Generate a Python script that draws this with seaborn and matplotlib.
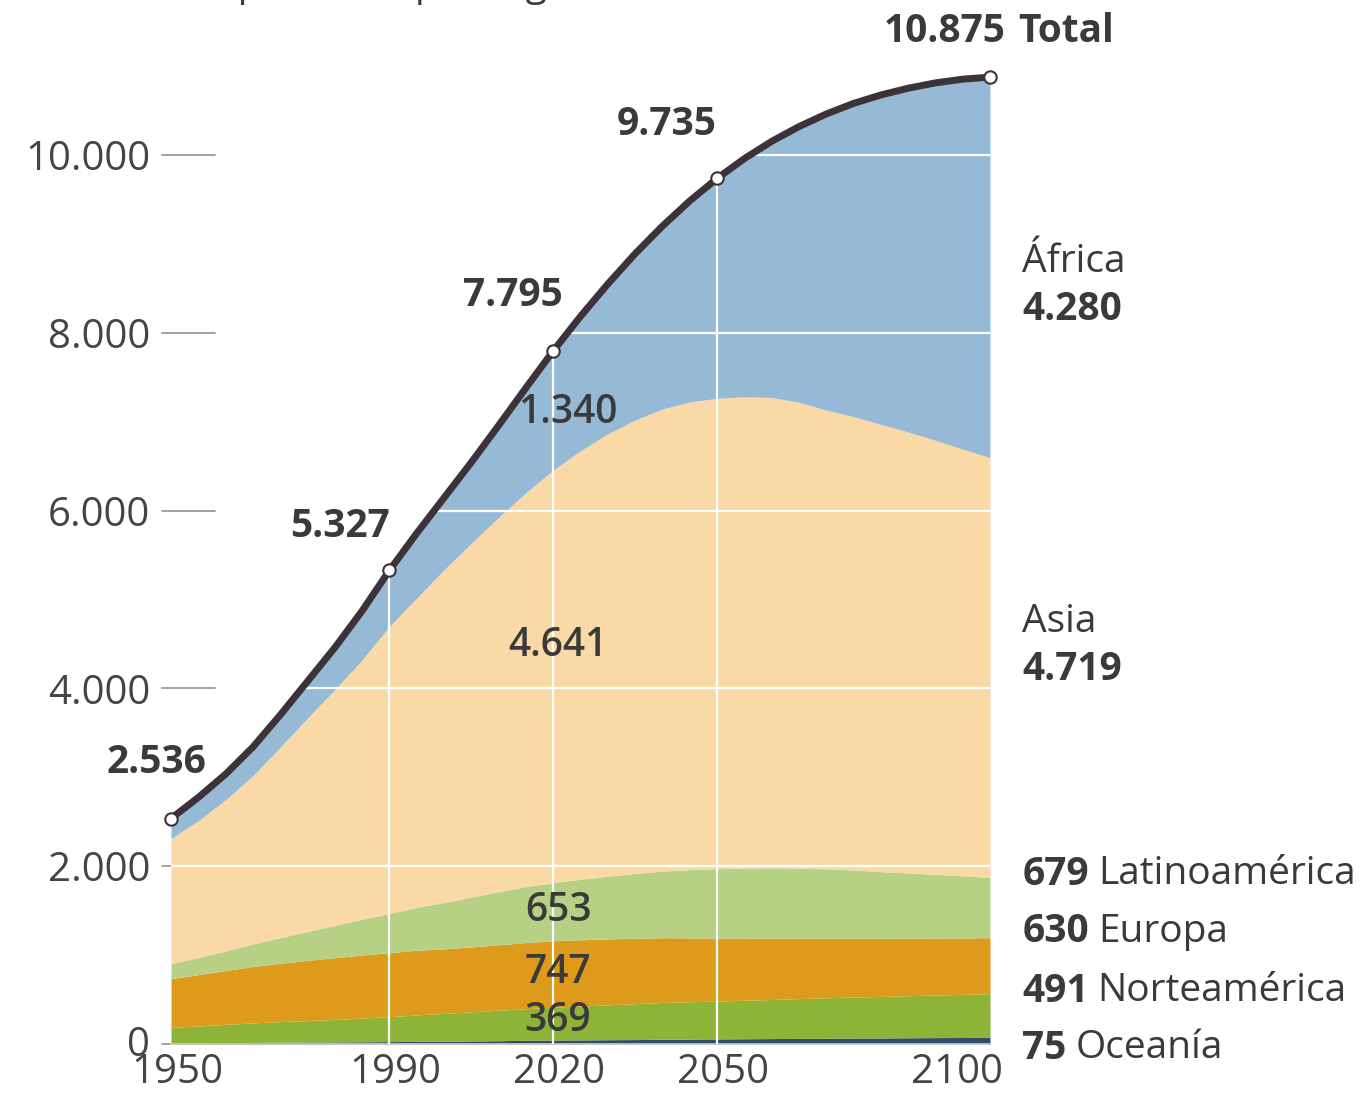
import numpy as np
import matplotlib
matplotlib.use("Agg")
import matplotlib.pyplot as plt
import matplotlib.transforms as mtransforms
import seaborn as sns

# Data (millions of people), every 5 years
years = list(range(1950, 2101, 5))
oceania = [13, 14, 16, 18, 20, 21, 23, 25, 27, 29, 31, 34, 37, 41, 45, 46,
           48, 50, 53, 55, 57, 59, 61, 63, 65, 67, 68, 70, 72, 73, 75]
norteamerica = [173, 189, 205, 219, 231, 242, 254, 267, 280, 298, 313, 328, 343, 357, 369, 381,
                393, 404, 414, 420, 425, 433, 440, 448, 455, 461, 467, 473, 479, 485, 491]
europa = [549, 577, 605, 635, 657, 677, 694, 708, 721, 727, 726, 730, 736, 743, 747, 745,
          741, 735, 728, 719, 710, 700, 690, 680, 670, 662, 654, 647, 641, 635, 630]
latinoamerica = [169, 193, 220, 253, 288, 326, 364, 403, 441, 482, 522, 561, 598, 630, 653, 681,
                 706, 729, 750, 767, 780, 787, 790, 787, 780, 767, 750, 734, 717, 698, 679]
asia = [1405, 1540, 1700, 1893, 2142, 2400, 2650, 2917, 3226, 3480, 3741, 3980, 4210, 4430, 4641, 4820,
        4974, 5100, 5197, 5260, 5290, 5300, 5290, 5240, 5160, 5100, 5030, 4960, 4880, 4800, 4719]
africa = [227, 254, 285, 322, 366, 418, 480, 551, 632, 718, 811, 919, 1039, 1182, 1340, 1510,
          1688, 1872, 2063, 2265, 2473, 2675, 2870, 3100, 3329, 3520, 3705, 3870, 4021, 4160, 4280]
total = [2536, 2773, 3035, 3340, 3700, 4079, 4458, 4871, 5327, 5744, 6143, 6542, 6957, 7380, 7795, 8184,
         8548, 8888, 9199, 9482, 9735, 9958, 10152, 10318, 10460, 10579, 10674, 10750, 10810, 10852, 10875]

tick_years = [1950, 1990, 2020, 2050, 2100]
y_ticks = [0, 2000, 4000, 6000, 8000, 10000]

colors = ["#334c6b", "#8db337", "#dd9a1b", "#b6d184", "#fad9a6", "#96bad6"]

def fmt(v):
    return f"{v:,}".replace(",", ".")

sns.set_theme(style="white")
plt.rcParams['font.family'] = ['Open Sans', 'DejaVu Sans']
text_color = "#3a3a3a"
fs = 28

fig = plt.figure(figsize=(13.65, 10.97), dpi=100)
ax = fig.add_axes([171 / 1365, 1 - 1044 / 1097, (990 - 171) / 1365, (1044 - 66) / 1097])

layers = [oceania, norteamerica, europa, latinoamerica, asia, africa]
ax.stackplot(years, layers, colors=colors, linewidth=0, zorder=2)

# invisible region under the stack, used to clip the white grid
under = ax.fill_between(years, 0, np.sum(layers, axis=0), color="none", linewidth=0)
clip_path = under.get_paths()[0]

for yv in y_ticks[1:]:
    ln, = ax.plot([1950, 2100], [yv, yv], color="white", lw=1.6, zorder=3)
    ln.set_clip_path(clip_path, ax.transData)
    # grey tick stub on the left
    ax.plot([1948.35, 1958.1], [yv, yv], color="#9a9a9a", lw=1.3, zorder=1, clip_on=False)
ax.plot([1948.35, 1950], [0, 0], color="#9a9a9a", lw=1.3, zorder=1, clip_on=False)
for xv in tick_years[1:-1]:
    ln, = ax.plot([xv, xv], [0, 11000], color="white", lw=1.6, zorder=3)
    ln.set_clip_path(clip_path, ax.transData)

# total line
sns.lineplot(x=years, y=total, ax=ax, color="#3d3238", lw=5, zorder=4, legend=False)
mark_idx = [years.index(y) for y in tick_years]
ax.scatter([years[i] for i in mark_idx], [total[i] for i in mark_idx], s=80,
           facecolor="white", edgecolor="#3d3238", linewidth=1.5, zorder=5, clip_on=False)

ax.set_xlim(1950, 2100)
ax.set_ylim(0, 11000)
ax.set_xticks(tick_years)
ax.set_xticklabels([str(y) for y in tick_years])
ax.set_yticks(y_ticks)
ax.set_yticklabels([fmt(v) for v in y_ticks])
ax.tick_params(axis="both", length=0, labelsize=29, labelcolor="#444444")
ax.tick_params(axis="y", pad=15)
ax.tick_params(axis="x", pad=6)
for lab in ax.get_xticklabels():
    lab.set_transform(lab.get_transform() + mtransforms.ScaledTranslation(6 / 100, 0, fig.dpi_scale_trans))
last = ax.get_xticklabels()[-1]
last.set_horizontalalignment("right")
last.set_transform(last.get_transform() + mtransforms.ScaledTranslation(7 / 100, 0, fig.dpi_scale_trans))
zero = ax.get_yticklabels()[0]
zero.set_transform(zero.get_transform() + mtransforms.ScaledTranslation(0, 3 / 100, fig.dpi_scale_trans))
for s in ["top", "right", "left"]:
    ax.spines[s].set_visible(False)
ax.spines["bottom"].set_color("#cfcfcf")
ax.spines["bottom"].set_linewidth(1.2)
ax.set_facecolor("none")

# total value labels
total_pos = [(1947.4, 3161), (1980.95, 5815), (2012.6, 8414), (2040.7, 10337)]
for (x, y), i in zip(total_pos, mark_idx[:-1]):
    ax.text(x, y, fmt(total[i]), ha="center", va="center", fontsize=fs,
            fontweight="bold", color=text_color, zorder=6)
ax.text(2102.9, 11384, fmt(total[-1]), ha="right", va="center", fontsize=fs,
        fontweight="bold", color=text_color, clip_on=False)
ax.text(2105.1, 11384, "Total", ha="left", va="center", fontsize=fs,
        fontweight="bold", color=text_color, clip_on=False)

# values inside the stack for 2020
i20 = years.index(2020)
inner = [(2022.7, 7098, africa[i20]), (2020.9, 4477, asia[i20]),
         (2020.9, 1496, latinoamerica[i20]), (2020.9, 799, europa[i20]),
         (2020.9, 259, norteamerica[i20])]
for x, y, v in inner:
    ax.text(x, y, fmt(v), ha="center", va="center", fontsize=fs,
            fontweight="semibold", color=text_color, zorder=6)

# right-hand labels
xr = 2105.9
ax.text(xr, 8797, "África", ha="left", va="center", fontsize=fs,
        color=text_color, clip_on=False)
ax.text(xr, 8257, fmt(africa[-1]), ha="left", va="center", fontsize=fs, fontweight="bold",
        color=text_color, clip_on=False)
ax.text(xr, 4747, "Asia", ha="left", va="center", fontsize=fs,
        color=text_color, clip_on=False)
ax.text(xr, 4207, fmt(asia[-1]), ha="left", va="center", fontsize=fs, fontweight="bold",
        color=text_color, clip_on=False)

renderer = fig.canvas.get_renderer()
small = [(1912, latinoamerica[-1], "Latinoamérica"), (1260, europa[-1], "Europa"),
         (596, norteamerica[-1], "Norteamérica"), (-45, oceania[-1], "Oceanía")]
for y, v, name in small:
    t = ax.text(xr, y, fmt(v), ha="left", va="center", fontsize=fs, fontweight="bold",
                color=text_color, clip_on=False)
    bb = t.get_window_extent(renderer=renderer)
    x_name = ax.transData.inverted().transform((bb.x1 + 9, 0))[0]
    ax.text(x_name, y, name, ha="left", va="center", fontsize=fs,
            color=text_color, clip_on=False)

# subtitle, cut at the top edge as in the original
fig.text(20 / 1365, 1.004, "Millones de personas por regiones", ha="left", va="baseline",
         fontsize=fs, color=text_color)

fig.savefig("out.png", dpi=100)
